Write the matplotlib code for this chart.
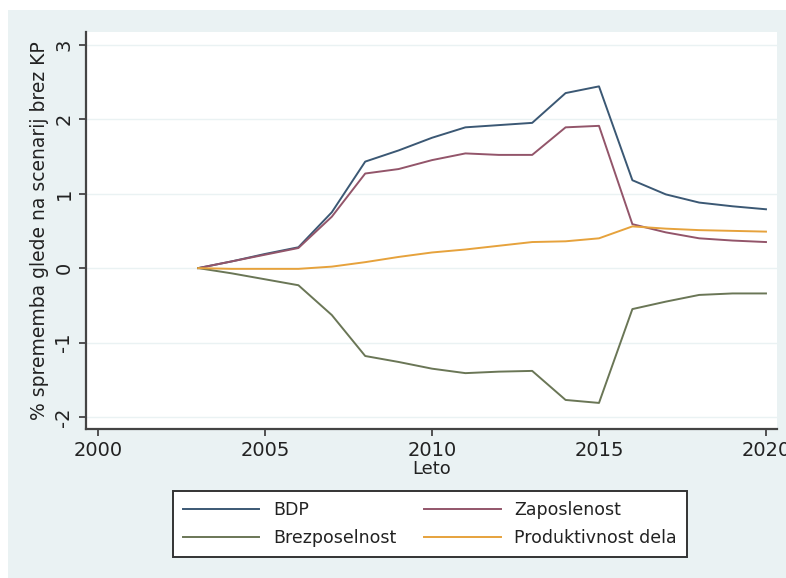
import matplotlib
matplotlib.use("Agg")
import matplotlib.pyplot as plt
from matplotlib.patches import Rectangle

plt.rcParams["axes.unicode_minus"] = False

years = list(range(2003, 2021))
bdp = [0.0, 0.09, 0.19, 0.28, 0.75, 1.43, 1.58, 1.75, 1.89, 1.92, 1.95, 2.35, 2.44, 1.18, 0.99, 0.88, 0.83, 0.79]
zaposlenost = [0.0, 0.09, 0.18, 0.27, 0.69, 1.27, 1.33, 1.45, 1.54, 1.52, 1.52, 1.89, 1.91, 0.59, 0.48, 0.40, 0.37, 0.35]
brezposelnost = [0.0, -0.07, -0.15, -0.23, -0.63, -1.18, -1.26, -1.35, -1.41, -1.39, -1.38, -1.77, -1.81, -0.55, -0.45, -0.36, -0.34, -0.34]
produktivnost = [0.0, -0.01, -0.01, -0.01, 0.02, 0.08, 0.15, 0.21, 0.25, 0.30, 0.35, 0.36, 0.40, 0.56, 0.53, 0.51, 0.50, 0.49]

labels = ["BDP", "Zaposlenost", "Brezposelnost", "Produktivnost dela"]
colors = ["#3b5874", "#93556a", "#6a7656", "#e6a23c"]
xticks = [2000, 2005, 2010, 2015, 2020]
yticks = [-2, -1, 0, 1, 2, 3]

fig = plt.figure(figsize=(7.86, 5.78), dpi=100)
fig.patch.set_facecolor("white")
W, H = 786, 578
bg = Rectangle((8 / W, 0), 1 - 8 / W, 1 - 10 / H, transform=fig.transFigure,
               facecolor="#eaf2f3", edgecolor="none", zorder=-10)
fig.patches.append(bg)

ax = fig.add_axes([86 / W, 1 - 429 / H, (777 - 86) / W, (429 - 32) / H])
ax.set_facecolor("white")

series = [bdp, zaposlenost, brezposelnost, produktivnost]
lines = []
for s, lab, c in zip(series, labels, colors):
    ln, = ax.plot(years, s, color=c, lw=1.4, label=lab)
    lines.append(ln)

ax.set_xlim(1999.64, 2020.33)
ax.set_ylim(-2.16, 3.17)
ax.set_xticks(xticks)
ax.set_yticks(yticks)
ax.grid(axis="y", color="#eaf2f3", lw=1.0)
ax.set_axisbelow(True)

for sp in ["top", "right"]:
    ax.spines[sp].set_visible(False)
for sp in ["left", "bottom"]:
    ax.spines[sp].set_color("#444444")
    ax.spines[sp].set_linewidth(1.6)

ax.tick_params(axis="both", direction="out", length=5, width=1.3, color="#444444",
               labelsize=14, labelcolor="#222222")
ax.tick_params(axis="x", pad=4)
ax.tick_params(axis="y", pad=4)
plt.setp(ax.get_yticklabels(), rotation=90, va="center")

ax.set_ylabel("% sprememba glede na scenarij brez KP", fontsize=13.5, color="#222222", labelpad=4)
ax.set_xlabel("Leto", fontsize=13, color="#222222", labelpad=0)

handles = [lines[0], lines[2], lines[1], lines[3]]
hl = [labels[0], labels[2], labels[1], labels[3]]
leg = fig.legend(handles, hl, ncol=2, loc="center", bbox_to_anchor=(430 / W, 1 - 524 / H),
                 fontsize=12.5, frameon=True, fancybox=False, edgecolor="#333333",
                 facecolor="white", framealpha=1, handlelength=4.4, columnspacing=1.6,
                 labelspacing=0.6, borderpad=0.55, handletextpad=0.8)
leg.get_frame().set_linewidth(1.4)
for t in leg.get_texts():
    t.set_color("#222222")

fig.savefig("out.png", dpi=100)
